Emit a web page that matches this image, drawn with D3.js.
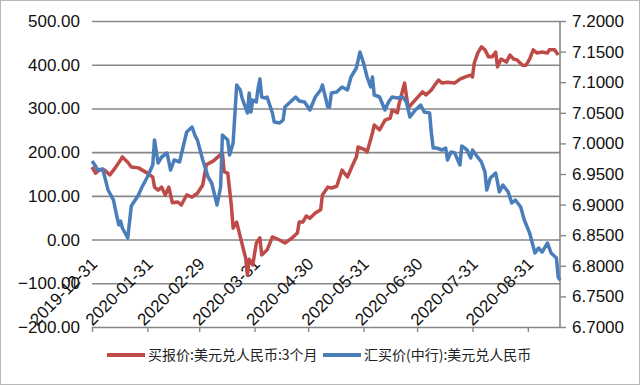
<!DOCTYPE html>
<html><head><meta charset="utf-8">
<script src="https://cdn.jsdelivr.net/npm/d3@7"></script>
<style>
html,body{margin:0;padding:0;background:#fff;}
svg{display:block;}
</style></head>
<body>
<svg id="c" width="640" height="385"></svg>
<script>
// ---- data ----
const seriesNames = ["买报价:美元兑人民币:3个月", "汇买价(中行):美元兑人民币"];
const leftTicks = [-200, -100, 0, 100, 200, 300, 400, 500];
const rightTicks = [6.70, 6.75, 6.80, 6.85, 6.90, 6.95, 7.00, 7.05, 7.10, 7.15, 7.20];
const xTickDates = ["2019-12-31","2020-01-31","2020-02-29","2020-03-31","2020-04-30","2020-05-31","2020-06-30","2020-07-31","2020-08-31"];
const xDomain = ["2019-12-31", "2020-09-18"];

const fwdDates = ["2019-12-31","2020-01-02","2020-01-04","2020-01-07","2020-01-10","2020-01-13","2020-01-16","2020-01-17","2020-01-20","2020-01-22","2020-01-26","2020-01-31",
"2020-02-03","2020-02-04","2020-02-06","2020-02-08","2020-02-10","2020-02-12","2020-02-14","2020-02-17","2020-02-19","2020-02-22","2020-02-25","2020-02-28",
"2020-03-02","2020-03-04","2020-03-08","2020-03-11","2020-03-13","2020-03-14","2020-03-16","2020-03-18","2020-03-19","2020-03-21","2020-03-23","2020-03-26","2020-03-27","2020-03-28","2020-03-30",
"2020-04-01","2020-04-03","2020-04-04","2020-04-07","2020-04-10","2020-04-14","2020-04-17","2020-04-21","2020-04-24","2020-04-25","2020-04-27","2020-04-29",
"2020-05-01","2020-05-04","2020-05-07","2020-05-08","2020-05-11","2020-05-13","2020-05-16","2020-05-19","2020-05-22","2020-05-25","2020-05-27","2020-05-28",
"2020-06-01","2020-06-02","2020-06-05","2020-06-06","2020-06-09","2020-06-12","2020-06-15","2020-06-16","2020-06-19","2020-06-20","2020-06-23","2020-06-25","2020-06-28","2020-06-30",
"2020-07-03","2020-07-05","2020-07-08","2020-07-10","2020-07-12","2020-07-14","2020-07-17","2020-07-21","2020-07-24","2020-07-27","2020-07-30","2020-07-31",
"2020-08-01","2020-08-03","2020-08-05","2020-08-07","2020-08-09","2020-08-11","2020-08-13","2020-08-14","2020-08-16","2020-08-19","2020-08-21","2020-08-23","2020-08-25","2020-08-28","2020-08-30",
"2020-09-01","2020-09-03","2020-09-05","2020-09-08","2020-09-11","2020-09-12","2020-09-15","2020-09-17"];
const fwdValues = [166,152,159,159,148,164,182,189,177,166,164,152,
143,120,113,120,102,120,84,86,79,102,97,106,
125,171,180,191,198,155,152,79,26,40,6,-42,-81,-45,-58,
-8,4,-35,-24,6,-1,-8,4,15,40,40,54,
49,61,68,102,120,118,122,159,143,171,189,212,
205,200,244,262,251,273,278,296,290,312,358,301,315,324,
338,331,342,354,365,358,360,358,367,372,376,372,
404,427,441,434,418,418,429,395,413,406,422,413,411,399,399,
413,434,427,429,427,434,434,422];

const spotDates = ["2019-12-31","2020-01-02","2020-01-03","2020-01-06","2020-01-09","2020-01-12","2020-01-14","2020-01-15","2020-01-16","2020-01-17","2020-01-20","2020-01-22","2020-01-26","2020-01-28","2020-01-31",
"2020-02-03","2020-02-04","2020-02-06","2020-02-08","2020-02-11","2020-02-13","2020-02-15","2020-02-18","2020-02-20","2020-02-22","2020-02-25","2020-02-27","2020-02-28",
"2020-03-02","2020-03-05","2020-03-07","2020-03-10","2020-03-12","2020-03-13","2020-03-16","2020-03-17","2020-03-19","2020-03-21","2020-03-23","2020-03-24","2020-03-27","2020-03-28","2020-03-29","2020-03-30",
"2020-04-01","2020-04-02","2020-04-03","2020-04-04","2020-04-06","2020-04-07","2020-04-10","2020-04-11","2020-04-14","2020-04-16","2020-04-17","2020-04-20","2020-04-23","2020-04-25","2020-04-28",
"2020-05-01","2020-05-04","2020-05-07","2020-05-08","2020-05-11","2020-05-12","2020-05-13","2020-05-16","2020-05-19","2020-05-22","2020-05-24","2020-05-27","2020-05-29","2020-05-31",
"2020-06-02","2020-06-04","2020-06-05","2020-06-06","2020-06-09","2020-06-12","2020-06-14","2020-06-16","2020-06-19","2020-06-22","2020-06-24","2020-06-26","2020-06-29",
"2020-07-02","2020-07-04","2020-07-07","2020-07-08","2020-07-09","2020-07-11","2020-07-14","2020-07-16","2020-07-17","2020-07-19","2020-07-21","2020-07-24","2020-07-25","2020-07-28","2020-07-30","2020-07-31",
"2020-08-02","2020-08-05","2020-08-07","2020-08-08","2020-08-10","2020-08-13","2020-08-14","2020-08-15","2020-08-17","2020-08-20","2020-08-22","2020-08-24","2020-08-27","2020-08-29",
"2020-09-01","2020-09-04","2020-09-06","2020-09-08","2020-09-11","2020-09-13","2020-09-16","2020-09-17","2020-09-18"];
const spotValues = [6.9712,6.9631,6.9565,6.9582,6.9239,6.9075,6.8797,6.8667,6.8732,6.8618,6.8454,6.8977,6.9157,6.9288,6.9451,
6.9647,7.0056,6.9680,6.9778,6.9843,6.9565,6.9729,6.9696,6.9941,7.0186,7.0268,7.0105,7.0056,
6.9729,6.9451,6.9353,6.8993,6.9288,7.0137,7.0056,6.9810,7.0007,7.0954,7.0873,7.0742,7.0497,7.0824,7.0513,7.0709,
7.0676,7.0905,7.1052,7.0758,7.0742,7.0758,7.0497,7.0350,7.0333,7.0382,7.0595,7.0676,7.0758,7.0693,7.0676,
7.0546,7.0758,7.0873,7.0954,7.0595,7.0595,7.0824,7.0840,7.0922,7.0873,7.1085,7.1232,7.1493,7.1314,
7.1085,7.0922,7.1085,7.0791,7.0758,7.0546,7.0676,7.0758,7.0742,7.0758,7.0676,7.0431,7.0546,
7.0627,7.0513,7.0497,7.0170,6.9925,6.9925,6.9892,6.9925,6.9729,6.9859,6.9843,6.9647,6.9958,6.9892,6.9761,6.9892,
6.9810,6.9696,6.9533,6.9239,6.9435,6.9516,6.9369,6.9206,6.9320,6.9206,6.9026,6.9075,6.8961,6.8748,
6.8536,6.8209,6.8291,6.8225,6.8373,6.8209,6.8127,6.7817,6.7768];

const colors = ["#BE4B48", "#4A7EBB"];

// ---- drawing ----
const W = 640, H = 385;
const m = {left: 92, right: 80, top: 21, bottom: 58};
const pw = W - m.left - m.right, ph = H - m.top - m.bottom;
const parse = d3.timeParse("%Y-%m-%d");
const svg = d3.select("#c");
const font = "'Liberation Sans', Arial, Helvetica, sans-serif";

svg.append("rect").attr("x",0.5).attr("y",0.5).attr("width",W-1).attr("height",H-1)
  .attr("fill","#fff").attr("stroke","#b8b8b8").attr("stroke-width",1);

const x = d3.scaleTime().domain(xDomain.map(parse)).range([m.left, m.left + pw]);
const yL = d3.scaleLinear().domain([-200, 500]).range([m.top + ph, m.top]);
const yR = d3.scaleLinear().domain([6.7, 7.2]).range([m.top + ph, m.top]);

// gridlines + left labels
const gL = svg.append("g").attr("transform", `translate(${m.left},0)`)
  .call(d3.axisLeft(yL).tickValues(leftTicks).tickSize(-pw).tickPadding(12).tickFormat(d3.format(".2f")));
gL.select(".domain").remove();
gL.selectAll(".tick line").attr("stroke","#878787").attr("stroke-width",1.6);
gL.selectAll(".tick text").attr("font-family",font).attr("font-size",17).attr("fill","#111");

// right axis
const gR = svg.append("g").attr("transform", `translate(${m.left + pw},0)`)
  .call(d3.axisRight(yR).tickValues(rightTicks).tickSize(6).tickPadding(6).tickFormat(d3.format(".4f")));
gR.select(".domain").attr("stroke","#878787").attr("stroke-width",1.6).attr("d", `M0,${m.top}V${m.top+ph}`);
gR.selectAll(".tick line").attr("stroke","#878787").attr("stroke-width",1.4);
gR.selectAll(".tick text").attr("font-family",font).attr("font-size",17).attr("fill","#111");

// bottom axis (tick marks + rotated labels)
const gB = svg.append("g").attr("transform", `translate(0,${m.top + ph})`)
  .call(d3.axisBottom(x).tickValues(xTickDates.map(parse)).tickSize(5).tickFormat(d3.timeFormat("%Y-%m-%d")));
gB.select(".domain").remove();
gB.selectAll(".tick line").attr("stroke","#878787").attr("stroke-width",1.4);
gB.selectAll(".tick text")
  .attr("font-family",font).attr("font-size",17).attr("fill","#111")
  .attr("text-anchor","end").attr("dy",null).attr("y",null)
  .attr("transform","translate(6,-62) rotate(-45)");

// lines
const fwd = fwdDates.map((d,i)=>({d:parse(d), v:fwdValues[i]}));
const spot = spotDates.map((d,i)=>({d:parse(d), v:spotValues[i]}));
svg.append("path").datum(fwd)
  .attr("fill","none").attr("stroke",colors[0]).attr("stroke-width",3.5).attr("stroke-linejoin","round")
  .attr("d", d3.line().x(p=>x(p.d)).y(p=>yL(p.v)));
svg.append("path").datum(spot)
  .attr("fill","none").attr("stroke",colors[1]).attr("stroke-width",3.5).attr("stroke-linejoin","round")
  .attr("d", d3.line().x(p=>x(p.d)).y(p=>yR(p.v)));

// legend
const lg = svg.append("g");
const legendItems = [{x:107, name:seriesNames[0], c:colors[0]}, {x:323, name:seriesNames[1], c:colors[1]}];
legendItems.forEach(it=>{
  lg.append("line").attr("x1",it.x).attr("x2",it.x+38).attr("y1",355).attr("y2",355)
    .attr("stroke",it.c).attr("stroke-width",4);
  lg.append("text").attr("x",it.x+41).attr("y",360).text(it.name)
    .attr("font-family","'Noto Sans CJK SC', sans-serif").attr("font-size",14).attr("fill","#222");
});
</script>
</body></html>
